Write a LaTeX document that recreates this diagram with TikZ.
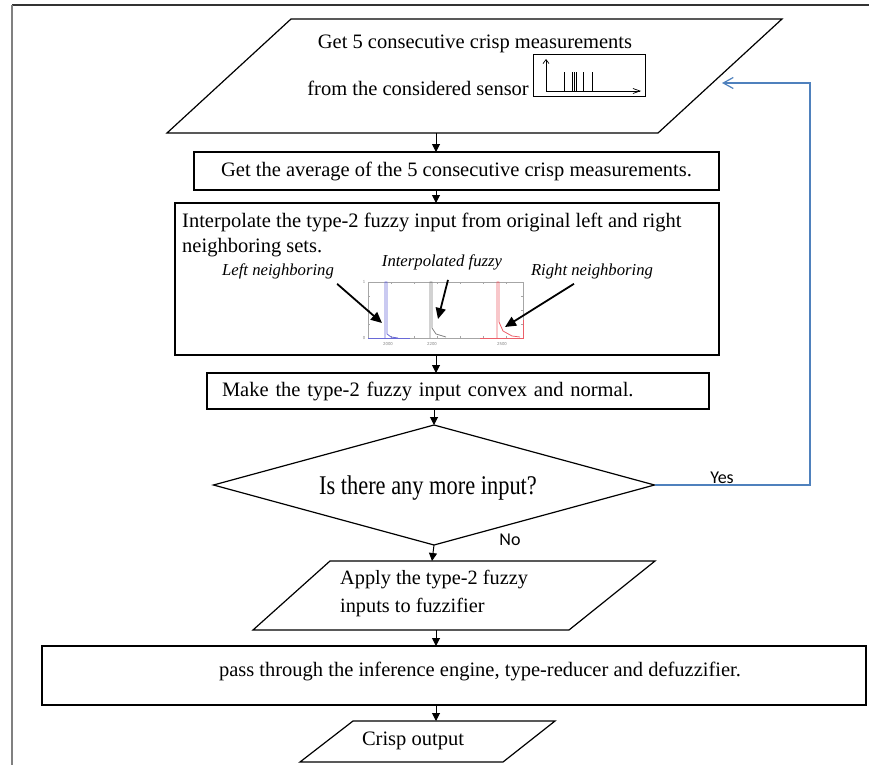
\documentclass[tikz,border=0pt]{standalone}
\usepackage{fontspec}
\setmainfont{Liberation Serif}
\newfontfamily\yesnofont{Carlito}
\newfontfamily\narrowserif[FakeStretch=0.83]{Liberation Serif}
\usetikzlibrary{shapes.geometric,arrows.meta}
\definecolor{loopblue}{RGB}{79,129,189}
\definecolor{plotblue}{RGB}{105,105,215}
\definecolor{plotred}{RGB}{235,95,105}
\tikzset{
  stepbox/.style={draw, line width=1.2pt, inner sep=0pt, outer sep=0pt, font=\fontsize{20.5}{25}\selectfont},
  iobox/.style={draw, line width=1.2pt, line join=miter},
  steptext/.style={inner sep=0pt, font=\fontsize{20.5}{25}\selectfont},
  flow/.style={line width=1pt, -{Triangle[length=8pt,width=8pt]}},
  pointer/.style={line width=1.8pt, -{Triangle[length=11pt,width=10pt]}},
  tag/.style={inner sep=0pt, font=\fontsize{16.7}{20}\selectfont\itshape},
  answer/.style={inner sep=0pt, font=\fontsize{18}{20}\yesnofont},
  ticklabel/.style={inner sep=0pt, gray, font=\fontsize{4.5}{5}\sffamily},
}

\begin{document}
\begin{tikzpicture}[x=1pt, y=-1pt]
	\useasboundingbox (0,0) rectangle (869,765);
	% page frame
	\draw[line width=1.5pt, black!80] (12,5) -- (869,5);
	\draw[line width=2pt, gray] (12,5) -- (12,765);
	\coordinate (spine) at (436,0);

	% input / output parallelograms
	\draw[iobox] (291,19) -- (782,19) -- (658,133) -- (167,133) -- cycle;
	\coordinate (sensebase) at (436,133);
	\draw[iobox] (330,561) -- (655,561) -- (569,630) -- (253,630) -- cycle;
	\coordinate (applytop) at (432,561);
	\coordinate (applybase) at (436,630);
	\draw[iobox] (353,721) -- (555,721) -- (503,762) -- (300,762) -- cycle;
	\coordinate (crisptop) at (436,721);

	% flow chart
	\node[steptext] (sensetext) at (475,44) {Get 5 consecutive crisp measurements};
	\node[steptext, anchor=east] (sensefrom) at (529,88) {from the considered sensor};
	\node[stepbox, minimum width=525pt, minimum height=38pt] (avg) at (456.5,171) {Get the average of the 5 consecutive crisp measurements.};
	\node[stepbox, minimum width=544pt, minimum height=152pt] (interp) at (447,279) {};
	\node[steptext, anchor=west, align=left] (interptext) at (182,234.5) {Interpolate the type-2 fuzzy input from original left and right\\neighboring sets.};
	\node[stepbox, minimum height=36pt, inner xsep=15pt, text width=472pt, align=left] (convex) at (458,391) {Make the type-2 fuzzy input convex and normal.};
	\node[stepbox, diamond, aspect=3.675, minimum width=441pt, minimum height=120pt] (more) at (434,485) {};
	\node[inner sep=0pt, font=\fontsize{27}{30}\narrowserif] (moretext) at (428,488) {Is there any more input?};
	\node[steptext, anchor=west, align=left, font=\fontsize{20.3}{28}\selectfont] (applytext) at (340,594) {Apply the type-2 fuzzy\\inputs to fuzzifier};
	\node[stepbox, minimum width=824pt, minimum height=59pt] (reduce) at (454,675.5) {};
	\node[steptext] (reducetext) at (480,671) {pass through the inference engine, type-reducer and defuzzifier.};
	\node[steptext] (crisptext) at (413,741) {Crisp output};

	\draw[flow] (sensebase) -- (avg.north -| spine);
	\draw[flow] (avg.south -| spine) -- (interp.north -| spine);
	\draw[flow] (interp.south -| spine) -- (convex.north -| spine);
	\draw[flow] (convex.south -| more.north) -- (more.north);
	\draw[flow] (more.south) -- (applytop);
	\draw[flow] (applybase) -- (reduce.north -| spine);
	\draw[flow] (reduce.south -| spine) -- (crisptop);

	% yes branch back to the input
	\coordinate (loopcorner) at (810,83);
	\coordinate (backin) at (722,83);
	\draw[loopblue, line width=1.2pt, -{Straight Barb[length=10pt,width=11pt]}] (more.east) -| (loopcorner) -- (backin);
	\node[answer] (yes) at (722,478) {Yes};
	\node[answer] (no) at (510,540) {No};

	% crisp samples sketch
	\draw[line width=1pt] (533,55) rectangle (645,97);
	\draw[line width=0.7pt, -{Straight Barb[length=4pt,width=6pt]}] (546,91) -- (546,59);
	\draw[line width=0.7pt, -{Straight Barb[length=7pt,width=5pt]}] (546,91) -- (641,91);
	\foreach \sx in {564,572,574,576,583,592}
		\draw[line width=0.8pt] (\sx,91) -- (\sx,72);

	% fuzzy sets plot
	\draw[gray!70, line width=0.6pt] (368,282) rectangle (523,338);
	\foreach \tx in {391,414,...,506} {
		\draw[gray!70, line width=0.5pt] (\tx,282) -- (\tx,284);
		\draw[gray!70, line width=0.5pt] (\tx,338) -- (\tx,336);
	}
	\foreach \ty in {296,310,324} {
		\draw[gray!70, line width=0.5pt] (368,\ty) -- (370,\ty);
		\draw[gray!70, line width=0.5pt] (523,\ty) -- (521,\ty);
	}
	\draw[plotblue, line width=0.8pt] (368,338) -- (410,338);
	\draw[plotblue, line width=0.8pt] (385,338) -- (385,282) -- (387,282) -- (387,334) -- (391,337) -- (398,338);
	\draw[gray, line width=0.8pt] (430,338) -- (430,282) -- (432,282) -- (432,328) -- (436,334) -- (446,337);
	\draw[plotred, line width=0.8pt] (480,338) -- (523,338) -- (523,320);
	\draw[plotred, line width=0.8pt] (497,338) -- (497,282) -- (499,282) -- (499,322) -- (503,331) -- (512,336) -- (520,337);
	\node[ticklabel] (tick0) at (364,338) {0};
	\node[ticklabel] (tick1) at (364,282) {1};
	\node[ticklabel] (tickA) at (388,344) {2000};
	\node[ticklabel] (tickB) at (432,344) {2200};
	\node[ticklabel] (tickC) at (502,344) {2500};

	\node[tag] (leftlbl) at (278,271) {Left neighboring};
	\node[tag] (midlbl) at (442,262) {Interpolated fuzzy};
	\node[tag] (rightlbl) at (592,271) {Right neighboring};
	\coordinate (lefttip) at (382,323);
	\coordinate (midtip) at (438,319);
	\coordinate (righttip) at (505,327);
	\draw[pointer] ([xshift=3pt,yshift=-5pt]leftlbl.south east) -- (lefttip);
	\draw[pointer] ([xshift=6pt,yshift=-10pt]midlbl.south) -- (midtip);
	\draw[pointer] ([xshift=-18pt,yshift=-5pt]rightlbl.south) -- (righttip);
\end{tikzpicture}
\end{document}
